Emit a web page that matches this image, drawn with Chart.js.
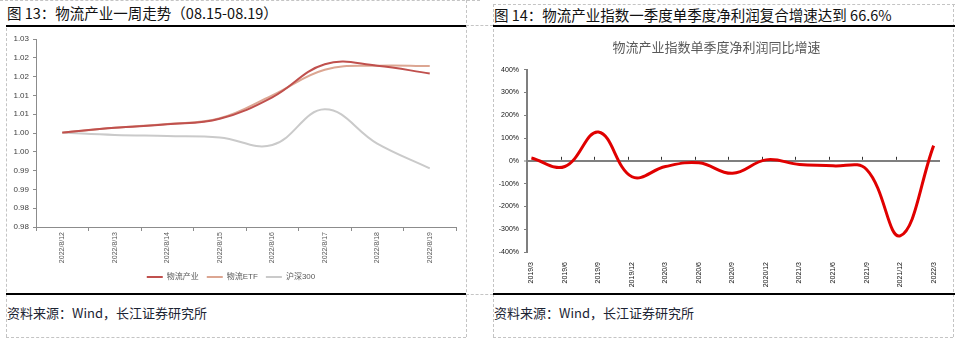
<!DOCTYPE html>
<html>
<head>
<meta charset="utf-8">
<script src="https://cdn.jsdelivr.net/npm/chart.js@4"></script>
<style>
    body { margin: 0; width: 963px; height: 343px; position: relative; overflow: hidden; background: #fff; font-family: "Noto Sans CJK SC", sans-serif; }
    .dh { position: absolute; height: 0; border-top: 1px dashed #c4c4c4; }
    .dv { position: absolute; width: 0; border-left: 1px dashed #c4c4c4; }
    .rule { position: absolute; height: 0; border-top: 2px solid #000; }
    .txt { position: absolute; white-space: nowrap; color: #111; line-height: 1; }
    .title { font-size: 14.5px; }
    .src { font-size: 13px; color: #1c2433; }
    canvas { position: absolute; }
</style>
</head>
<body>
<!-- 表格虛線框 -->
<div class="dh" style="left:0;top:0;width:480px"></div>
<div class="dh" style="left:493px;top:4px;width:462px"></div>
<div class="dv" style="left:466px;top:0;height:337px"></div>
<div class="dv" style="left:6px;top:28px;height:309px"></div>
<div class="dv" style="left:493px;top:4px;height:333px"></div>
<div class="dv" style="left:953px;top:4px;height:333px"></div>
<div class="dh" style="left:466px;top:25px;width:27px"></div>
<div class="dh" style="left:466px;top:294px;width:27px"></div>
<div class="dh" style="left:6px;top:337px;width:460px"></div>
<div class="dh" style="left:493px;top:337px;width:460px"></div>

<div class="rule" style="left:6px;top:25px;width:460px"></div>
<div class="rule" style="left:493px;top:25px;width:462px"></div>
<div class="rule" style="left:6px;top:293px;width:460px"></div>
<div class="rule" style="left:493px;top:293px;width:462px"></div>

<div class="txt title" style="left:7px;top:6px">图 13：物流产业一周走势（08.15-08.19）</div>
<div class="txt title" style="left:494px;top:8px">图 14：物流产业指数一季度单季度净利润复合增速达到 66.6%</div>
<div class="txt src" style="left:7px;top:306px">资料来源：Wind，长江证券研究所</div>
<div class="txt src" style="left:494px;top:306px">资料来源：Wind，长江证券研究所</div>

<canvas id="weekChart" width="460" height="264" style="left:6px;top:28px"></canvas>
<canvas id="profitChart" width="462" height="264" style="left:493px;top:28px"></canvas>

<script>
// 圖 13 數據
const dates = ['2022/8/12', '2022/8/13', '2022/8/14', '2022/8/15', '2022/8/16', '2022/8/17', '2022/8/18', '2022/8/19'];
const wuliuChanye = [1.0051, 1.0064, 1.0073, 1.0088, 1.0145, 1.0233, 1.0229, 1.0208];
const wuliuEtf = [1.0051, 1.0064, 1.0074, 1.0089, 1.0150, 1.0218, 1.0229, 1.0228];
const hs300 = [1.0051, 1.0045, 1.0042, 1.0038, 1.0018, 1.0113, 1.0022, 0.9956];
const weekTickValues = [0.98, 0.985, 0.99, 0.995, 1.0, 1.005, 1.01, 1.015, 1.02, 1.025, 1.03];
const weekTickLabels = ['0.98', '0.98', '0.99', '0.99', '1.00', '1.00', '1.01', '1.01', '1.02', '1.02', '1.03'];

// 圖 14 數據
const quarters = ['2019/3', '2019/6', '2019/9', '2019/12', '2020/3', '2020/6', '2020/9', '2020/12', '2021/3', '2021/6', '2021/9', '2021/12', '2022/3'];
const profitGrowth = [12, -25, 126, -70, -25, -9, -55, 4, -16, -22, -38, -329, 66.6];
const growthTicks = [-400, -300, -200, -100, 0, 100, 200, 300, 400];

Chart.defaults.font.family = '"Liberation Sans", Arial, "Noto Sans CJK SC", sans-serif';
Chart.defaults.animation = false;

const axisGray = '#8c8c8c';

new Chart(document.getElementById('weekChart'), {
    type: 'line',
    data: {
        labels: dates,
        datasets: [
            { label: '物流产业', data: wuliuChanye, borderColor: '#c0504d', backgroundColor: '#c0504d', borderWidth: 2, pointRadius: 0, tension: 0.4 },
            { label: '物流ETF', data: wuliuEtf, borderColor: '#dca692', backgroundColor: '#dca692', borderWidth: 2, pointRadius: 0, tension: 0.4 },
            { label: '沪深300', data: hs300, borderColor: '#cacaca', backgroundColor: '#cacaca', borderWidth: 2, pointRadius: 0, tension: 0.4 }
        ]
    },
    options: {
        responsive: false,
        layout: { padding: { top: 11, right: 10, bottom: 1, left: 0 } },
        plugins: {
            legend: {
                position: 'bottom',
                labels: {
                    boxWidth: 16,
                    boxHeight: 2,
                    padding: 8,
                    color: '#595959',
                    font: { size: 8 },
                    generateLabels: chart => Chart.defaults.plugins.legend.labels.generateLabels(chart).map(l => ({ ...l, lineWidth: 0 }))
                }
            },
            tooltip: { enabled: false }
        },
        scales: {
            x: {
                offset: true,
                grid: { display: true, drawOnChartArea: false, offset: true, tickLength: 4, color: axisGray },
                border: { color: axisGray },
                ticks: { minRotation: 90, maxRotation: 90, autoSkip: false, padding: 1, color: '#595959', font: { size: 7 } },
                afterFit: s => { s.height = 38; }
            },
            y: {
                min: 0.98,
                max: 1.03,
                grid: { drawOnChartArea: false, tickLength: 3, color: axisGray },
                border: { color: axisGray },
                ticks: { padding: 4, color: '#404040', font: { size: 8 }, callback: (v, i) => weekTickLabels[i] },
                afterBuildTicks: axis => { axis.ticks = weekTickValues.map(v => ({ value: v })); },
                afterFit: s => { s.width = 30; }
            }
        }
    }
});

// 零軸上的小刻度
const zeroTicks = {
    id: 'zeroTicks',
    beforeDatasetsDraw(chart) {
        const xs = chart.scales.x, ys = chart.scales.y;
        const y0 = ys.getPixelForValue(0);
        const ctx = chart.ctx;
        ctx.save();
        ctx.strokeStyle = '#333';
        ctx.lineWidth = 1;
        for (let k = 1; k < quarters.length; k++) {
            const x = Math.round(xs.getPixelForValue(xs.min + k)) + 0.5;
            ctx.beginPath();
            ctx.moveTo(x, y0 - 1);
            ctx.lineTo(x, y0 - 4);
            ctx.stroke();
        }
        ctx.restore();
    }
};

new Chart(document.getElementById('profitChart'), {
    type: 'line',
    data: {
        datasets: [{
            label: '物流产业指数单季度净利润同比增速',
            data: profitGrowth.map((v, i) => ({ x: i, y: v })),
            borderColor: '#e00000',
            borderWidth: 3,
            pointRadius: 0,
            tension: 0.4
        }]
    },
    options: {
        responsive: false,
        layout: { padding: { top: 0, right: 15, bottom: 0, left: 0 } },
        plugins: {
            legend: { display: false },
            tooltip: { enabled: false },
            title: {
                display: true,
                text: '物流产业指数单季度净利润同比增速',
                color: '#595959',
                font: { size: 13, weight: 'normal', family: '"Noto Sans CJK SC", sans-serif' },
                padding: { top: 11, bottom: 15 }
            }
        },
        scales: {
            x: {
                type: 'linear',
                min: -0.131,
                max: 12.19,
                grid: { display: false },
                border: { display: false },
                ticks: { minRotation: 90, maxRotation: 90, autoSkip: false, padding: 2, color: '#111', font: { size: 7 }, callback: v => quarters[v] },
                afterBuildTicks: axis => { axis.ticks = quarters.map((q, i) => ({ value: i })); },
                afterFit: s => { s.height = 40; }
            },
            y: {
                min: -400,
                max: 400,
                grid: {
                    color: c => (c.tick && c.tick.value === 0) ? '#7f7f7f' : 'rgba(0,0,0,0)',
                    lineWidth: c => (c.tick && c.tick.value === 0) ? 2 : 1,
                    tickColor: '#7f7f7f',
                    tickWidth: 1,
                    tickLength: 3
                },
                border: { color: '#7f7f7f', width: 2 },
                ticks: { padding: 5, color: '#111', font: { size: 7 }, callback: v => v + '%' },
                afterBuildTicks: axis => { axis.ticks = growthTicks.map(v => ({ value: v })); },
                afterFit: s => { s.width = 34; }
            }
        }
    },
    plugins: [zeroTicks]
});
</script>
</body>
</html>
